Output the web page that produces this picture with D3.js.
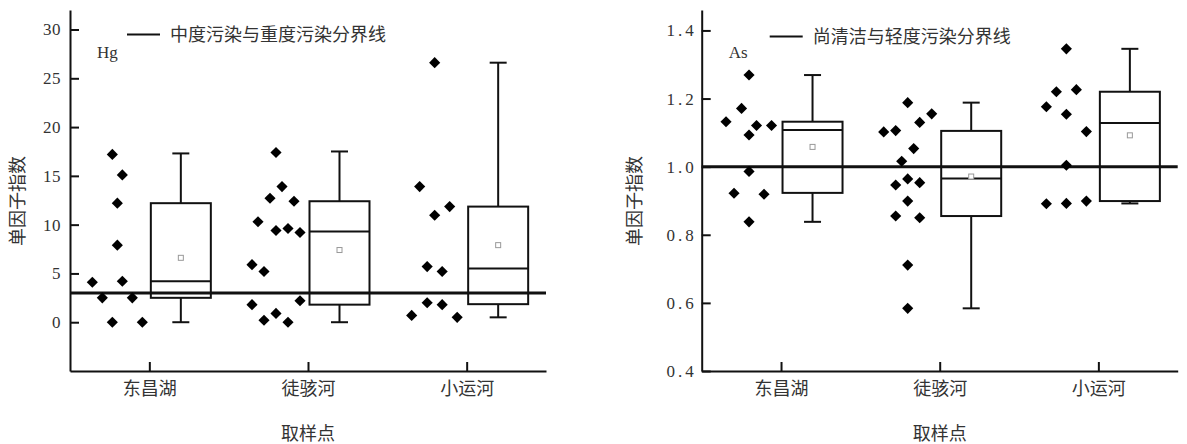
<!DOCTYPE html>
<html>
<head>
<meta charset="utf-8">
<script src="https://cdn.jsdelivr.net/npm/d3@7"></script>
<style>
body { margin: 0; background: #fff; }
.ytick text { font-family: "Liberation Serif", serif; font-size: 17px; fill: #333; }
.xtick text { font-family: "Noto Sans CJK SC", sans-serif; font-size: 18px; fill: #333; }
.cjk { font-family: "Noto Sans CJK SC", sans-serif; font-size: 18px; fill: #333; }
.elem { font-family: "Liberation Serif", serif; font-size: 17px; fill: #333; }
</style>
</head>
<body>
<div id="chart"></div>
<script>
// sampling sites
var sites = ["东昌湖", "徒骇河", "小运河"];

// Hg single factor index, points per site (jitter = horizontal spread, -1..1)
var hgValues = [
  [17.2, 15.1, 12.2, 7.9, 4.1, 4.2, 2.5, 2.5, 0.0, 0.0],
  [17.4, 13.9, 12.7, 12.4, 10.3, 9.4, 9.6, 9.2, 5.9, 5.2, 1.8, 2.2, 0.9, 0.2, 0.0],
  [26.6, 13.9, 11.85, 10.96, 5.7, 5.2, 2.0, 1.8, 0.7, 0.5]
];
var hgJitter = [
  [-0.2, 0.2, 0, 0, -1, 0.2, -0.6, 0.6, -0.2, 1],
  [0, 0.24, -0.24, 0.72, -0.72, 0, 0.48, 0.96, -0.96, -0.48, -0.96, 0.96, 0, -0.48, 0.48],
  [0, -0.6, 0.6, 0, -0.3, 0.3, -0.3, 0.3, -0.92, 0.9]
];
var hgMin = [0, 0, 0.5];
var hgQ1 = [2.5, 1.8, 1.85];
var hgMedian = [4.2, 9.3, 5.5];
var hgQ3 = [12.2, 12.4, 11.85];
var hgMax = [17.3, 17.5, 26.6];
var hgMean = [6.6, 7.4, 7.9];
var hgLimit = 3;

// As single factor index
var asValues = [
  [1.269, 1.171, 1.132, 1.121, 1.121, 1.093, 0.986, 0.922, 0.919, 0.838],
  [1.188, 1.155, 1.130, 1.102, 1.106, 1.053, 1.016, 0.946, 0.964, 0.953, 0.899, 0.855, 0.850, 0.711, 0.584],
  [1.346, 1.220, 1.226, 1.176, 1.154, 1.103, 1.004, 0.891, 0.892, 0.899]
];
var asJitter = [
  [0, -0.3, -0.92, 0.3, 0.9, 0, 0, -0.6, 0.6, 0],
  [0, 0.96, 0.48, -0.96, -0.48, 0.24, -0.24, -0.48, 0, 0.48, 0, -0.48, 0.48, 0, 0],
  [0, -0.4, 0.4, -0.8, 0, 0.8, 0, -0.8, 0, 0.8]
];
var asMin = [0.838, 0.584, 0.892];
var asQ1 = [0.923, 0.855, 0.899];
var asMedian = [1.108, 0.965, 1.128];
var asQ3 = [1.132, 1.105, 1.220];
var asMax = [1.269, 1.188, 1.346];
var asMean = [1.058, 0.971, 1.092];
var asLimit = 1.0;

var hgTicks = [0, 5, 10, 15, 20, 25, 30];
var asTicks = [0.4, 0.6, 0.8, 1.0, 1.2, 1.4];

var svg = d3.select("#chart").append("svg")
  .attr("width", 1187)
  .attr("height", 444);

var plotWidth = 476;
var plotTop = 10, plotBottom = 371;

function drawPanel(p) {
  var x = d3.scalePoint().domain(sites).range([p.left, p.left + plotWidth]).padding(0.5);
  var y = d3.scaleLinear().domain(p.domain).range([plotBottom, plotTop]);
  var spread = d3.scaleLinear().domain([-1, 1]).range([-25, 25]);

  var g = svg.append("g");

  // y axis, ticks inside
  var yAxis = g.append("g")
    .attr("class", "ytick")
    .attr("transform", `translate(${p.left},0)`)
    .call(d3.axisLeft(y).tickValues(p.ticks).tickFormat(p.format)
      .tickSizeInner(-9).tickSizeOuter(0).tickPadding(p.pad));
  yAxis.selectAll("text").style("letter-spacing", p.spacing + "px");

  // x axis
  var xAxis = g.append("g")
    .attr("class", "xtick")
    .attr("transform", `translate(0,${plotBottom})`)
    .call(d3.axisBottom(x).tickSizeInner(-9).tickSizeOuter(0).tickPadding(11));

  g.selectAll(".domain, .tick line").attr("stroke", "#111").attr("stroke-width", 2);

  // box plots
  sites.forEach(function(s, i) {
    var cx = x(s) + 31.5;
    var bw = 60, cap = 17;
    var bg = g.append("g").attr("stroke", "#111").attr("stroke-width", 2).attr("fill", "none");
    bg.append("line").attr("x1", cx).attr("x2", cx).attr("y1", y(p.max[i])).attr("y2", y(p.q3[i]));
    bg.append("line").attr("x1", cx).attr("x2", cx).attr("y1", y(p.q1[i])).attr("y2", y(p.min[i]));
    bg.append("line").attr("x1", cx - cap / 2).attr("x2", cx + cap / 2).attr("y1", y(p.max[i])).attr("y2", y(p.max[i]));
    bg.append("line").attr("x1", cx - cap / 2).attr("x2", cx + cap / 2).attr("y1", y(p.min[i])).attr("y2", y(p.min[i]));
    bg.append("rect").attr("x", cx - bw / 2).attr("width", bw)
      .attr("y", y(p.q3[i])).attr("height", y(p.q1[i]) - y(p.q3[i]));
    bg.append("line").attr("x1", cx - bw / 2).attr("x2", cx + bw / 2).attr("y1", y(p.median[i])).attr("y2", y(p.median[i]));
    // mean marker
    g.append("rect").attr("x", cx - 2.5).attr("y", y(p.mean[i]) - 2.5)
      .attr("width", 5).attr("height", 5)
      .attr("fill", "#fff").attr("stroke", "#999").attr("stroke-width", 1);
  });

  // threshold line
  g.append("line")
    .attr("x1", p.left).attr("x2", p.left + plotWidth)
    .attr("y1", y(p.limit)).attr("y2", y(p.limit))
    .attr("stroke", "#111").attr("stroke-width", 3);

  // scatter points
  var diamond = d3.symbol().type(d3.symbolSquare).size(62);
  sites.forEach(function(s, i) {
    var px = x(s) - 32;
    g.selectAll(null)
      .data(p.values[i])
      .enter()
      .append("path")
      .attr("d", diamond)
      .attr("fill", "#000")
      .attr("transform", (d, j) => `translate(${px + spread(p.jitter[i][j])},${y(d)}) rotate(45)`);
  });

  // legend
  g.append("line")
    .attr("x1", p.left + p.legendX).attr("x2", p.left + p.legendX + 33)
    .attr("y1", p.legendY).attr("y2", p.legendY)
    .attr("stroke", "#111").attr("stroke-width", 2);
  g.append("text").attr("class", "cjk")
    .attr("x", p.left + p.legendX + 43).attr("y", p.legendY + 6.5)
    .text(p.legend);

  // element label
  g.append("text").attr("class", "elem")
    .attr("x", p.left + 27).attr("y", 58)
    .text(p.elem);

  // axis titles
  g.append("text").attr("class", "cjk")
    .attr("transform", `translate(${p.left - p.titleOffset},201) rotate(-90)`)
    .attr("text-anchor", "middle")
    .attr("dy", "0.35em")
    .text("单因子指数");
  g.append("text").attr("class", "cjk")
    .attr("x", p.left + plotWidth / 2)
    .attr("y", 440)
    .attr("text-anchor", "middle")
    .text("取样点");
}

drawPanel({
  left: 70, domain: [-5, 32], ticks: hgTicks, format: d3.format("d"), pad: 9, spacing: 0.5,
  values: hgValues, jitter: hgJitter,
  min: hgMin, q1: hgQ1, median: hgMedian, q3: hgQ3, max: hgMax, mean: hgMean,
  limit: hgLimit, legend: "中度污染与重度污染分界线", legendX: 57, legendY: 34.5, elem: "Hg",
  titleOffset: 52
});

drawPanel({
  left: 701.7, domain: [0.4, 1.46], ticks: asTicks, format: d3.format(".1f"), pad: 5, spacing: 3,
  values: asValues, jitter: asJitter,
  min: asMin, q1: asQ1, median: asMedian, q3: asQ3, max: asMax, mean: asMean,
  limit: asLimit, legend: "尚清洁与轻度污染分界线", legendX: 68, legendY: 36.5, elem: "As",
  titleOffset: 67
});
</script>
</body>
</html>
